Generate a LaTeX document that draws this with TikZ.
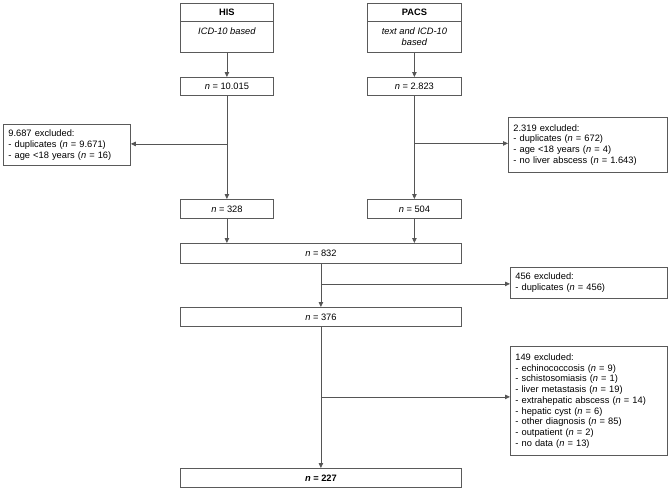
\documentclass[tikz,border=0pt]{standalone}
\usepackage{fontspec}
\setmainfont{Liberation Sans}
\usetikzlibrary{arrows.meta}
\definecolor{boxgray}{HTML}{5A5A5A}
\definecolor{linegray}{HTML}{555555}
\begin{document}
\begin{tikzpicture}[x=1pt,y=-1pt,
  font=\fontsize{9.3}{10.7}\selectfont,
  box/.style={draw=boxgray, line width=0.8pt, inner sep=0pt, anchor=north west, align=center},
  exbox/.style={draw=boxgray, line width=0.8pt, inner xsep=5pt, inner ysep=0pt, anchor=north west, align=left},
  arr/.style={draw=linegray, line width=0.8pt, -{Triangle[length=5pt,width=4.5pt]}},
  ln/.style={draw=linegray, line width=0.8pt}]
\useasboundingbox (0,0) rectangle (669,490);
% left column
\node[box, minimum width=93pt, minimum height=18pt] (his) at (180,3) {\bfseries HIS};
\node[box, minimum width=93pt, minimum height=31pt] (hisb) at (180,21) {\itshape ICD-10 based\\\mbox{}};
\node[box, minimum width=93pt, minimum height=18pt] (n10) at (180,77) {\textit{n} = 10.015};
\node[box, minimum width=93pt, minimum height=19pt] (n328) at (180,199) {\textit{n} = 328};
% right column
\node[box, minimum width=94pt, minimum height=18pt] (pacs) at (367,3) {\bfseries PACS};
\node[box, minimum width=94pt, minimum height=31pt] (pacsb) at (367,21) {\itshape text and ICD-10\\\itshape based};
\node[box, minimum width=94pt, minimum height=18pt] (n2823) at (367,77) {\textit{n} = 2.823};
\node[box, minimum width=94pt, minimum height=19pt] (n504) at (367,199) {\textit{n} = 504};
% merged
\node[box, minimum width=281pt, minimum height=20pt] (n832) at (180,243) {\textit{n} = 832};
\node[box, minimum width=281pt, minimum height=19pt] (n376) at (180,307) {\textit{n} = 376};
\node[box, minimum width=281pt, minimum height=19pt] (n227) at (180,468) {\bfseries\textit{n} = 227};
% exclusions
\node[exbox, text width=117pt, minimum height=41pt] (ex1) at (3,124) {9.687 excluded:\\- duplicates (\textit{n} = 9.671)\\- age <18 years (\textit{n} = 16)};
\node[exbox, text width=149pt, minimum height=55pt] (ex2) at (508,117) {2.319 excluded:\\- duplicates (\textit{n} = 672)\\- age <18 years (\textit{n} = 4)\\- no liver abscess (\textit{n} = 1.643)};
\node[exbox, text width=147pt, minimum height=31pt] (ex3) at (510,267) {456 excluded:\\- duplicates (\textit{n} = 456)};
\node[exbox, text width=147pt, minimum height=109pt] (ex4) at (510,346) {149 excluded:\\- echinococcosis (\textit{n} = 9)\\- schistosomiasis (\textit{n} = 1)\\- liver metastasis (\textit{n} = 19)\\- extrahepatic abscess (\textit{n} = 14)\\- hepatic cyst (\textit{n} = 6)\\- other diagnosis (\textit{n} = 85)\\- outpatient (\textit{n} = 2)\\- no data (\textit{n} = 13)};
\coordinate (b1) at ([yshift=1pt]ex1.east);
\coordinate (b2) at ([yshift=1.5pt]ex2.west);
\coordinate (b3) at ([yshift=-1pt]ex3.west);
\coordinate (b4) at ([yshift=4pt]ex4.west);
% connectors
\draw[arr] (hisb.south) -- (n10.north);
\draw[arr] (pacsb.south) -- (n2823.north);
\draw[arr] (n10.south) -- (n328.north);
\draw[arr] (n2823.south) -- (n504.north);
\draw[arr] (n10.south |- b1) -- (b1);
\draw[arr] (n2823.south |- b2) -- (b2);
\draw[arr] (n328.south) -- (n328.south |- n832.north);
\draw[arr] (n504.south) -- (n504.south |- n832.north);
\draw[arr] (n832.south) -- (n376.north);
\draw[arr] (n832.south |- b3) -- (b3);
\draw[arr] (n376.south) -- (n227.north);
\draw[arr] (n376.south |- b4) -- (b4);
\end{tikzpicture}
\end{document}
